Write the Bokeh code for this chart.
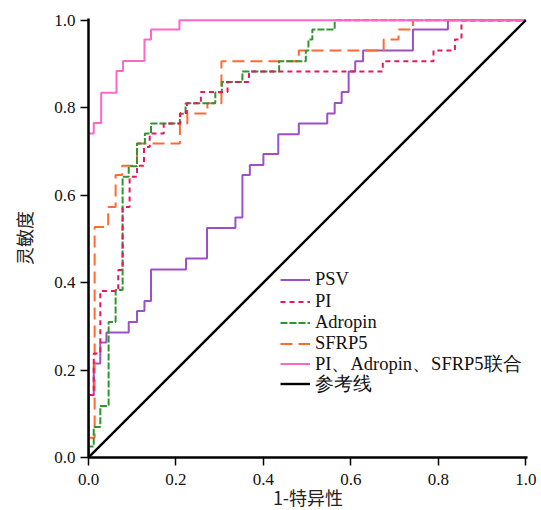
from bokeh.plotting import figure
from bokeh.models import Legend, LegendItem, Range1d, FixedTicker, PrintfTickFormatter
from bokeh.embed import file_html
from bokeh.resources import INLINE

# ROC step points: at each fpr the sensitivity jumps to tpr
psv_fpr = [0, 0, 0.012, 0.027, 0.041, 0.092, 0.111, 0.128, 0.143, 0.223, 0.271, 0.336, 0.352,
           0.369, 0.400, 0.434, 0.481, 0.546, 0.563, 0.579, 0.595, 0.610, 0.628, 0.742, 0.822, 1.0]
psv_tpr = [0, 0.143, 0.215, 0.263, 0.286, 0.310, 0.335, 0.358, 0.430, 0.455, 0.525, 0.549, 0.646,
           0.669, 0.694, 0.739, 0.764, 0.787, 0.811, 0.836, 0.883, 0.906, 0.931, 0.979, 1.0, 1.0]

pi_fpr = [0, 0, 0.012, 0.027, 0.068, 0.078, 0.094, 0.111, 0.127, 0.140, 0.172, 0.210, 0.225,
          0.257, 0.318, 0.367, 0.673, 0.789, 0.838, 0.853, 1.0]
pi_tpr = [0, 0.143, 0.238, 0.381, 0.429, 0.573, 0.642, 0.667, 0.710, 0.741, 0.764, 0.788, 0.810,
          0.836, 0.859, 0.883, 0.906, 0.931, 0.956, 1.0, 1.0]

adropin_fpr = [0, 0, 0.012, 0.027, 0.046, 0.062, 0.078, 0.092, 0.111, 0.129, 0.143, 0.209, 0.222,
               0.290, 0.305, 0.352, 0.436, 0.497, 0.503, 0.512, 0.563, 1.0]
adropin_tpr = [0, 0.025, 0.070, 0.118, 0.310, 0.383, 0.642, 0.666, 0.718, 0.741, 0.764, 0.786, 0.810,
               0.835, 0.859, 0.883, 0.906, 0.931, 0.956, 0.979, 1.0, 1.0]

sfrp5_fpr = [0, 0, 0.014, 0.045, 0.062, 0.077, 0.111, 0.209, 0.226, 0.272, 0.304, 0.481, 0.675,
             0.709, 0.742, 1.0]
sfrp5_tpr = [0, 0.045, 0.527, 0.573, 0.646, 0.667, 0.718, 0.764, 0.787, 0.810, 0.906, 0.931, 0.956,
             0.979, 1.0, 1.0]

combo_fpr = [0, 0, 0.012, 0.029, 0.064, 0.079, 0.128, 0.143, 0.208, 1.0]
combo_tpr = [0, 0.741, 0.765, 0.834, 0.884, 0.907, 0.956, 0.979, 1.0, 1.0]

ref_x = [0, 1]
ref_y = [0, 1]

ticks = [0.0, 0.2, 0.4, 0.6, 0.8, 1.0]
labels = ["PSV", "PI", "Adropin", "SFRP5", "PI、Adropin、SFRP5联合", "参考线"]

SERIF = "Liberation Serif, 'Noto Sans CJK SC'"
CJK = "'Noto Sans CJK SC'"

p = figure(frame_width=439, frame_height=439,
           x_range=Range1d(0, 1.004), y_range=Range1d(0, 1.004),
           output_backend="svg", toolbar_location=None,
           min_border_left=88, min_border_right=10, min_border_top=18, min_border_bottom=44)
p.background_fill_color = "white"
p.border_fill_color = "white"
p.outline_line_color = None
p.grid.visible = False

r_psv = p.step(psv_fpr, psv_tpr, mode="after", line_color="#9b50c8", line_width=2)
r_sfrp5 = p.step(sfrp5_fpr, sfrp5_tpr, mode="after", line_color="#ff6a30", line_width=2,
                 line_dash="12 6")
r_adropin = p.step(adropin_fpr, adropin_tpr, mode="after", line_color="#2f962f", line_width=2,
                   line_dash="7 2")
r_pi = p.step(pi_fpr, pi_tpr, mode="after", line_color="#e8175d", line_width=2,
              line_dash="5 4")
r_combo = p.step(combo_fpr, combo_tpr, mode="after", line_color="#ff66c8", line_width=2)
r_ref = p.line(ref_x, ref_y, line_color="black", line_width=2.4)

# one single-item legend per row so that every row has the same pitch
renderers = [r_psv, r_pi, r_adropin, r_sfrp5, r_combo, r_ref]
row_offsets = [163, 141, 120, 99, 79, 59]
for lab, rend, off in zip(labels, renderers, row_offsets):
    lg = Legend(items=[LegendItem(label=lab, renderers=[rend])], location=(192, off))
    lg.background_fill_alpha = 0
    lg.border_line_color = None
    lg.label_text_font = "Liberation Serif"
    lg.label_text_font_size = "18.5px"
    lg.label_text_color = "#111111"
    lg.glyph_width = 30
    lg.label_standoff = 5
    lg.label_height = 29
    lg.glyph_height = 29
    lg.padding = 0
    lg.margin = 0
    p.add_layout(lg)

for ax in (p.xaxis, p.yaxis):
    ax.ticker = FixedTicker(ticks=ticks)
    ax.formatter = PrintfTickFormatter(format="%.1f")
    ax.axis_line_width = 2.5
    ax.axis_line_color = "black"
    ax.major_tick_line_width = 1.5
    ax.major_tick_out = 8
    ax.major_tick_in = 0
    ax.minor_tick_line_color = None
    ax.major_label_text_font = SERIF
    ax.major_label_text_font_size = "17px"
    ax.major_label_text_color = "#111111"
    ax.axis_label_text_font = CJK
    ax.axis_label_text_font_size = "18px"
    ax.axis_label_text_font_style = "normal"
    ax.axis_label_text_color = "#222222"

p.xaxis.axis_label = "1-特异性"
p.yaxis.axis_label = "灵敏度"
p.xaxis.major_label_standoff = 8
p.yaxis.major_label_standoff = 5
p.xaxis.axis_label_standoff = -4
p.yaxis.axis_label_standoff = 14

open("out.html", "w").write(file_html(p, INLINE))
